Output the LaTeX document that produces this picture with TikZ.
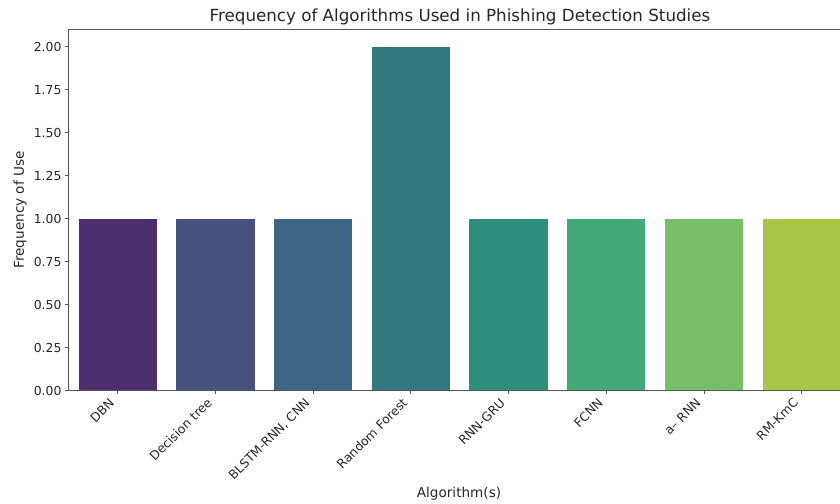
\documentclass[tikz,border=0pt]{standalone}
\usepackage{fontspec}
\setmainfont{DejaVu Sans}
\definecolor{cA}{HTML}{4B2F6F}
\definecolor{cB}{HTML}{47517F}
\definecolor{cC}{HTML}{3D6585}
\definecolor{cD}{HTML}{32787E}
\definecolor{cE}{HTML}{2E8F7F}
\definecolor{cF}{HTML}{45A878}
\definecolor{cG}{HTML}{77BE69}
\definecolor{cH}{HTML}{A9C545}
\definecolor{spinecol}{HTML}{555555}
\definecolor{txt}{HTML}{262626}
\begin{document}
\begin{tikzpicture}[x=1pt,y=-1pt,
  spine/.style={draw=spinecol,line width=0.9pt},
  tickmark/.style={draw=spinecol,line width=0.8pt},
  yticklab/.style={anchor=east,inner sep=0pt,text=txt,font=\fontsize{12.4}{15}\selectfont},
  xticklab/.style={anchor=east,inner sep=0pt,rotate=45,text=txt,text height=0.76em,text depth=0.24em,font=\fontsize{12.4}{15}\selectfont},
  axlabel/.style={inner sep=0pt,text=txt,font=\fontsize{13.6}{16}\selectfont},
  titlelab/.style={inner sep=0pt,text=txt,font=\fontsize{16.7}{20}\selectfont}]
\useasboundingbox (0,0) rectangle (840,503);
% bars
\foreach \i/\col/\v in {0/cA/1,1/cB/1,2/cC/1,3/cD/2,4/cE/1,5/cF/1,6/cG/1,7/cH/1}{
  \pgfmathsetmacro{\xc}{117.7+97.72*\i}
  \pgfmathsetmacro{\yt}{390.5-171.9*\v}
  \fill[\col] (\xc-39.1,390.5) rectangle (\xc+39.1,\yt);
}
% spines
\coordinate (tl) at (68.8,29.5);
\coordinate (bl) at (68.8,390.5);
\coordinate (tr) at (840,29.5);
\coordinate (br) at (840,390.5);
\draw[spine] (tr) -- (tl) -- (bl) -- (br);
% y ticks
\foreach \k/\v/\t in {0/0/0.00,1/0.25/0.25,2/0.5/0.50,3/0.75/0.75,4/1/1.00,5/1.25/1.25,6/1.5/1.50,7/1.75/1.75,8/2/2.00}{
  \pgfmathsetmacro{\yy}{390.5-171.9*\v}
  \coordinate (yt\k) at (68.8,\yy);
  \draw[tickmark] (yt\k) -- ++(-3.5,0);
  \node[yticklab] (ylab\k) at (61.6,\yy) {\t};
}
% x ticks
\foreach \i/\lab in {0/DBN,1/Decision tree,2/{BLSTM-RNN, CNN},3/Random Forest,4/RNN-GRU,5/FCNN,6/a– RNN,7/RM-KmC}{
  \pgfmathsetmacro{\xc}{117.7+97.72*\i}
  \coordinate (xt\i) at (\xc,390.5);
  \draw[tickmark] (xt\i) -- ++(0,3.5);
  \node[xticklab] (xlab\i) at (\xc-4.4,401.8) {\lab};
}
% labels
\node[axlabel,rotate=90] (ylabel) at (20,210) {Frequency of Use};
\node[axlabel] (xlabel) at (459,494) {Algorithm(s)};
\node[titlelab] (title) at (460,16.5) {Frequency of Algorithms Used in Phishing Detection Studies};
\end{tikzpicture}
\end{document}
